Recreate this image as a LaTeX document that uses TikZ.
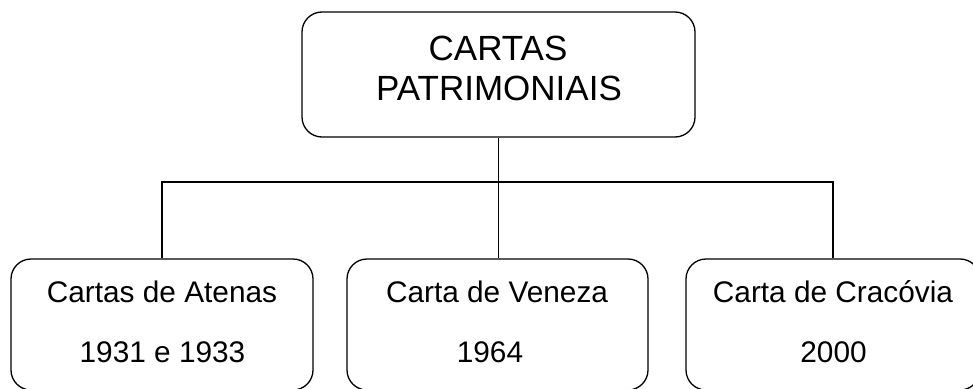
\documentclass[tikz,border=0pt]{standalone}
\usepackage{fontspec}
\setmainfont{Liberation Sans}
\begin{document}
\begin{tikzpicture}[x=1pt,y=-1pt,
  box/.style={draw=black,line width=1.3pt,rounded corners=20pt,inner sep=0pt},
  conn/.style={draw=black,line width=1.3pt},
  big/.style={anchor=base,inner sep=0pt,font=\fontsize{35}{40}\selectfont},
  small/.style={anchor=base,inner sep=0pt,font=\fontsize{29.8}{34}\selectfont}]
\useasboundingbox (0,0) rectangle (973,388);
\node[box,minimum width=393pt,minimum height=125pt] (top) at (498.5,74.5) {};
\node[box,minimum width=302pt,minimum height=131pt] (left) at (162,324.5) {};
\node[box,minimum width=301pt,minimum height=131pt] (mid) at (497.5,324.5) {};
\node[box,minimum width=294pt,minimum height=131pt] (right) at (833,324.5) {};
\node[big] (t1) at (498,60) {CARTAS};
\node[big] (t2) at (499,100) {PATRIMONIAIS};
\node[small] (l1) at (162,302) {Cartas de Atenas};
\node[small] (l2) at (162.5,362) {1931 e 1933};
\node[small] (m1) at (497,302) {Carta de Veneza};
\node[small] (m2) at (490,362) {1964};
\node[small] (r1) at (833,302) {Carta de Cracóvia};
\node[small] (r2) at (833.5,362) {2000};
\coordinate (bus) at (0,182);
\draw[conn] (left.north) -- (left.north |- bus) -- (right.north |- bus) -- (right.north);
\draw[conn] (top.south) -- (top.south |- mid.north);
\end{tikzpicture}
\end{document}
